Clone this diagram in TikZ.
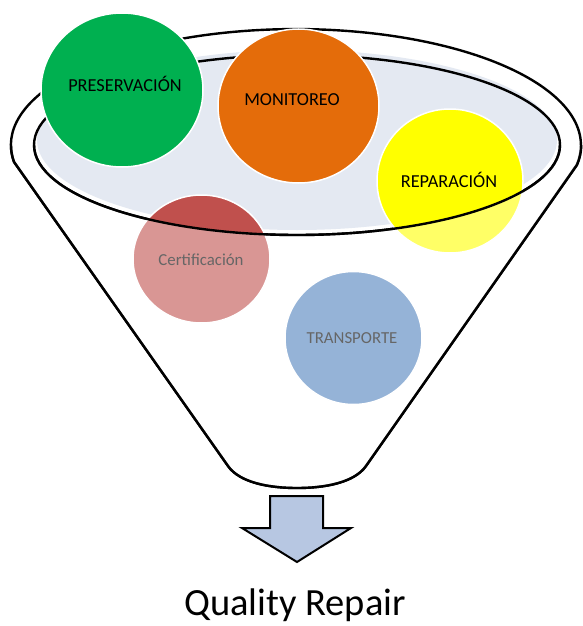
\documentclass[tikz,border=0pt]{standalone}
\usepackage{fontspec}
\setmainfont{Carlito}
\usetikzlibrary{shapes.geometric}

\definecolor{mouthfill}{HTML}{E4E9F2}
\definecolor{arrowfill}{HTML}{B7C7E2}
\definecolor{cgreen}{HTML}{00B050}
\definecolor{corange}{HTML}{E46C0A}
\definecolor{cyellow}{HTML}{FFFF00}
\definecolor{cred}{HTML}{C0504D}
\definecolor{cblue}{HTML}{4F81BD}

\tikzset{
  outline/.style={draw=black, line width=2.4pt, line join=round},
  ball/.style={ellipse, draw=white, line width=1.5pt, inner sep=0pt},
  biglabel/.style={font=\fontsize{18.3}{20}\selectfont, inner sep=0pt},
  smalllabel/.style={font=\fontsize{16.8}{19}\selectfont, inner sep=0pt},
}

\begin{document}
\begin{tikzpicture}[x=1pt, y=-1pt]
\useasboundingbox (0,0) rectangle (582,626);

% corners of the funnel body
\coordinate (lc) at (14,162);
\coordinate (rc) at (577,165);
\coordinate (lb) at (228,466);
\coordinate (rb) at (366,466);
\coordinate (bot) at (297,488);

% funnel body
\path[fill=white, outline] (lc)
  arc[start angle=171.6, end angle=369.9, x radius=285, y radius=116]
  -- (rb) .. controls (354,483) and (324,488) .. (bot)
  .. controls (270,488) and (240,483) .. (lb) -- cycle;

% mouth of the funnel
\fill[mouthfill] (297,140) ellipse[x radius=260, y radius=90];
\draw[outline] (297,145) ellipse[x radius=263, y radius=90];

% coloured balls
\node[ball, fill=cgreen, minimum width=162pt, minimum height=154pt] (pres) at (122,90) {};
\node[biglabel] (preslabel) at (125,84) {PRESERVACIÓN};
\node[ball, fill=corange, minimum width=161pt, minimum height=154pt] (moni) at (298.5,106) {};
\node[biglabel] (monilabel) at (292,100) {MONITOREO};
\node[ball, fill=cyellow, minimum width=146pt, minimum height=144pt] (repa) at (450,181) {};
\node[biglabel] (repalabel) at (449,180) {REPARACIÓN};
\node[ball, fill=cred, minimum width=137pt, minimum height=128pt] (cert) at (201.5,259) {};
\node[smalllabel] (certlabel) at (201,260) {Certificación};
\node[ball, fill=cblue, minimum width=137pt, minimum height=133pt] (tran) at (353.5,338) {};
\node[smalllabel] (tranlabel) at (352,338) {TRANSPORTE};

% translucent front wall of the funnel
\begin{scope}
  \clip (0,145) rectangle (582,626);
  \fill[white, opacity=0.4, even odd rule] (lc)
    arc[start angle=171.6, end angle=369.9, x radius=285, y radius=116]
    -- (rb) .. controls (354,483) and (324,488) .. (bot)
    .. controls (270,488) and (240,483) .. (lb) -- cycle
    (297,145) ellipse[x radius=263, y radius=90];
\end{scope}

% front edges drawn over the balls
\draw[outline] (560,145) arc[start angle=0, end angle=180, x radius=263, y radius=90];
\draw[outline] (11,145) arc[start angle=180, end angle=171.6, x radius=285, y radius=116]
  -- (lb) .. controls (240,483) and (270,488) .. (bot)
  .. controls (324,488) and (354,483) .. (rb) -- (rc)
  arc[start angle=9.9, end angle=0, x radius=285, y radius=116];

% output arrow
\draw[fill=arrowfill, line width=2pt, line join=miter] (270,496) -- (323,496) -- (323,528)
  -- (351,528) -- (297,562) -- (242,528) -- (270,528) -- cycle;

\node[font=\fontsize{38.5}{42}\selectfont, inner sep=0pt] (result) at (295,605) {Quality Repair};
\end{tikzpicture}
\end{document}
